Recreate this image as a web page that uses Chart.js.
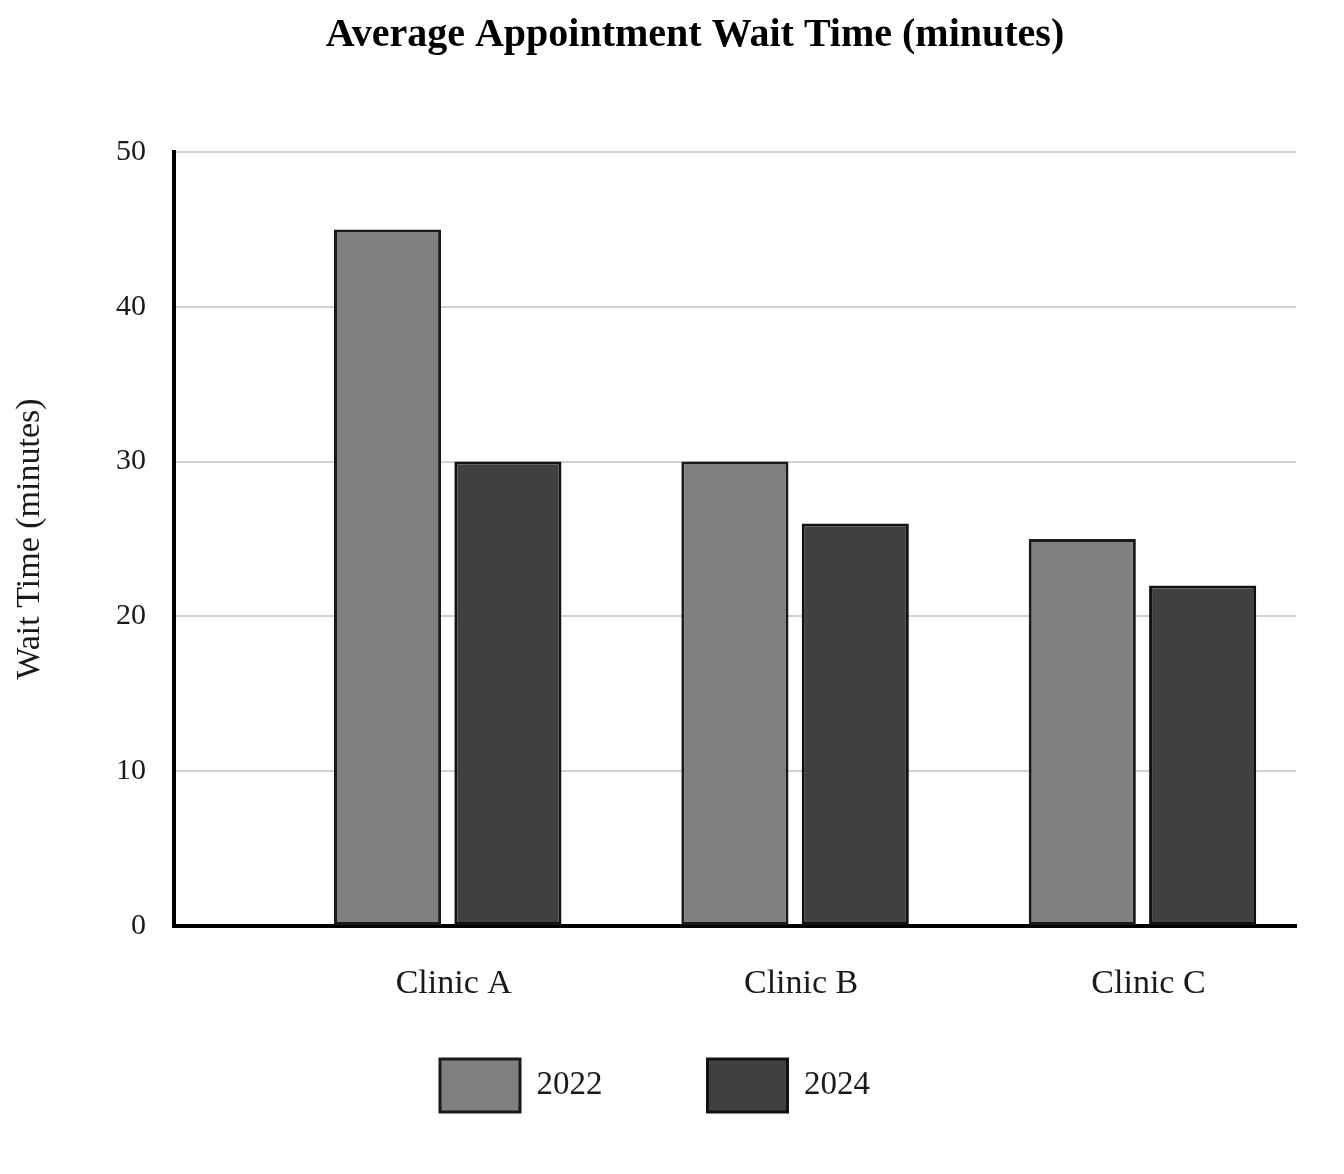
<!DOCTYPE html>
<html>
<head>
<meta charset="utf-8">
<script src="https://cdn.jsdelivr.net/npm/chart.js@4.4.1/dist/chart.umd.min.js"></script>
<style>
  html, body { margin: 0; padding: 0; background: #fff; }
  #wrap { width: 1344px; height: 1174px; }
</style>
</head>
<body>
<div id="wrap"><canvas id="chart" width="1344" height="1174"></canvas></div>
<script>
const clinics = ["Clinic A", "Clinic B", "Clinic C"];
const years = ["2022", "2024"];
const wait2022 = [45, 30, 25];
const wait2024 = [30, 26, 22];
const yTicks = [0, 10, 20, 30, 40, 50];

const serif = "'Liberation Serif', 'Times New Roman', serif";
const ink = "#1a1a1a";

const pointsFor = (values) => values.map((v, i) => ({ x: i + 1, y: v }));

// nudge the legend row and title to where the reference puts them
const blockPlacer = {
  id: "blockPlacer",
  afterLayout(chart) {
    const lg = chart.legend;
    lg.top -= 52;
    lg.bottom -= 52;
    lg.left += 7;
    lg.right += 7;
    const tb = chart.titleBlock;
    tb.left += 47;
    tb.right += 47;
  },
};

const init = function () {
  const ctx = document.getElementById("chart");
  new Chart(ctx, {
    type: "bar",
    data: {
      datasets: [
        {
          label: years[0],
          data: pointsFor(wait2022),
          backgroundColor: "#808080",
          borderColor: "#1a1a1a",
          borderWidth: 3,
          borderSkipped: false,
        },
        {
          label: years[1],
          data: pointsFor(wait2024),
          backgroundColor: "#404040",
          borderColor: "#111",
          borderWidth: 3,
          borderSkipped: false,
        },
      ],
    },
    options: {
      responsive: false,
      animation: false,
      categoryPercentage: 0.693,
      barPercentage: 0.89,
      layout: { padding: { left: 0, right: 48, top: 0, bottom: 0 } },
      plugins: {
        tooltip: { enabled: false },
        title: {
          display: true,
          text: "Average Appointment Wait Time (minutes)",
          color: "#000",
          font: { family: serif, size: 40, weight: "bold" },
          padding: { top: 12, bottom: 92 },
        },
        legend: {
          position: "bottom",
          labels: {
            color: ink,
            font: { family: serif, size: 33 },
            boxWidth: 80,
            boxHeight: 53,
            padding: 105,
          },
        },
      },
      scales: {
        x: {
          type: "linear",
          offset: false,
          min: 0.212,
          max: 3.442,
          grid: { display: false, drawTicks: false, offset: false },
          border: { display: true, color: "#000", width: 4 },
          afterBuildTicks: (scale) => {
            scale.ticks = clinics.map((c, i) => ({ value: i + 1 }));
          },
          afterFit: (scale) => {
            scale.height = 80;
          },
          ticks: {
            color: ink,
            padding: 38,
            labelOffset: 6,
            font: { family: serif, size: 34 },
            callback: (v) => clinics[v - 1] || "",
          },
        },
        y: {
          min: 0,
          max: 50,
          afterBuildTicks: (scale) => {
            scale.ticks = yTicks.map((v) => ({ value: v }));
          },
          afterFit: (scale) => {
            scale.width = 174;
          },
          grid: { color: "#d2d2d2", lineWidth: 2, drawTicks: false },
          border: { display: true, color: "#000", width: 4 },
          ticks: {
            color: ink,
            padding: 28,
            font: { family: serif, size: 30 },
          },
          title: {
            display: true,
            text: "Wait Time (minutes)",
            color: ink,
            font: { family: serif, size: 34 },
            padding: { top: 10, bottom: 0 },
          },
        },
      },
    },
    plugins: [blockPlacer],
  });
};

init();
</script>
</body>
</html>
